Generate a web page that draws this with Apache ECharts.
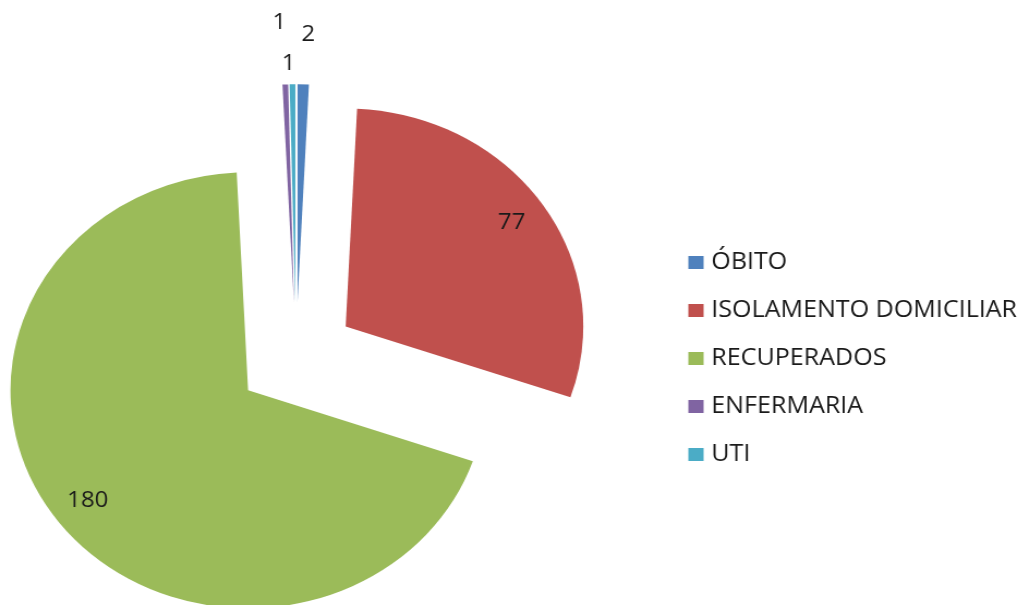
<!DOCTYPE html>
<html>
<head>
<meta charset="utf-8">
<script src="https://cdn.jsdelivr.net/npm/echarts@6/dist/echarts.min.js"></script>
<style>
  html, body { margin: 0; padding: 0; background: #fff; overflow: hidden; }
  /* the original picture is stretched sideways, so the pie is an ellipse */
  #chart { width: 945px; height: 605px; transform: scaleX(1.09); transform-origin: 0 0; }
</style>
</head>
<body>
<div id="chart"></div>
<script>
var categories = ["ÓBITO", "ISOLAMENTO DOMICILIAR", "RECUPERADOS", "ENFERMARIA", "UTI"];
var values = [2, 77, 180, 1, 1];
var colors = ["#4F81BD", "#C0504D", "#9BBB59", "#8064A2", "#4BACC6"];

var FONT = "Open Sans";
var center = [271.6, 357.3];
var offset = 55;
// how far the small labels sit above their slice
var outsideLabelLength = { "ÓBITO": 50, "ENFERMARIA": 62, "UTI": 21 };

var chart = echarts.init(document.getElementById("chart"), null, { renderer: "canvas" });

var slices = categories.map(function (name, i) {
  var small = values[i] < 10;
  return {
    name: name,
    value: values[i],
    selected: true,
    label: { show: small },
    labelLine: { length: outsideLabelLength[name] || 0 }
  };
});

// transparent copy only used to put the big labels near the rim
var bigLabels = categories.map(function (name, i) {
  return {
    name: name,
    value: values[i],
    selected: true,
    label: { show: values[i] >= 10 }
  };
});

chart.setOption({
  backgroundColor: "#ffffff",
  animation: false,
  color: colors,
  legend: {
    orient: "vertical",
    left: 631.5,
    top: 251,
    padding: 0,
    itemWidth: 14,
    itemHeight: 13,
    itemGap: 25,
    icon: "rect",
    selectedMode: false,
    data: categories,
    textStyle: { fontFamily: FONT, fontSize: 23, color: "#1a1a1a", padding: [0, 0, 0, 2] }
  },
  series: [
    {
      type: "pie",
      center: center,
      radius: [0, 218],
      startAngle: 90,
      clockwise: true,
      silent: true,
      selectedMode: "multiple",
      selectedOffset: offset,
      avoidLabelOverlap: false,
      itemStyle: { borderWidth: 0 },
      emphasis: { disabled: true },
      select: { itemStyle: { borderWidth: 0 } },
      label: {
        position: "outside",
        fontFamily: FONT,
        fontSize: 22,
        color: "#1a1a1a",
        distanceToLabelLine: -3,
        formatter: "{c}"
      },
      labelLine: { show: false, length: 50, length2: 0 },
      data: slices
    },
    {
      type: "pie",
      center: center,
      radius: [144, 218],
      startAngle: 90,
      clockwise: true,
      silent: true,
      selectedMode: "multiple",
      selectedOffset: offset,
      itemStyle: { color: "rgba(0,0,0,0)", borderWidth: 0 },
      emphasis: { disabled: true },
      select: { itemStyle: { color: "rgba(0,0,0,0)", borderWidth: 0 } },
      label: {
        position: "inside",
        fontFamily: FONT,
        fontSize: 22,
        color: "#1a1a1a",
        formatter: "{c}"
      },
      labelLine: { show: false },
      data: bigLabels
    }
  ]
});
</script>
</body>
</html>
